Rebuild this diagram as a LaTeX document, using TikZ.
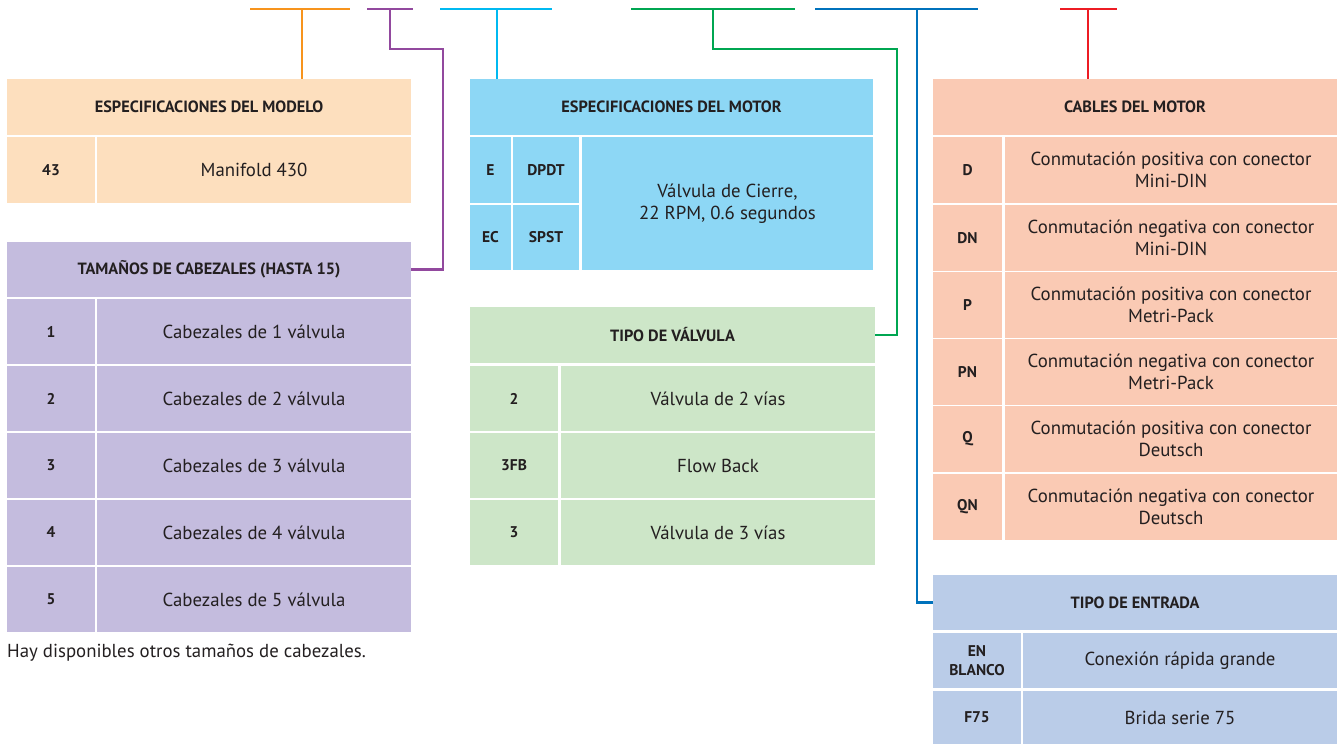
\documentclass[tikz,border=0pt]{standalone}
\usepackage{fontspec}
\setmainfont{PT Sans}
\usetikzlibrary{positioning}
\definecolor{txt}{HTML}{231F20}
\definecolor{cModelo}{HTML}{FDDFBE}
\definecolor{cCabezal}{HTML}{C4BCDE}
\definecolor{cMotor}{HTML}{8DD7F5}
\definecolor{cValvula}{HTML}{CDE6C8}
\definecolor{cCables}{HTML}{FACAB4}
\definecolor{cEntrada}{HTML}{BACCE8}
\definecolor{lnOrange}{HTML}{F7941D}
\definecolor{lnPurple}{HTML}{92499E}
\definecolor{lnCyan}{HTML}{00B9F1}
\definecolor{lnGreen}{HTML}{00A651}
\definecolor{lnBlue}{HTML}{0072BC}
\definecolor{lnRed}{HTML}{ED1C24}

\begin{document}
\begin{tikzpicture}[x=1pt,y=-1pt,
  cell/.style={fill=#1,anchor=north west,inner sep=0pt,outer sep=0pt,align=center,
    text=txt,font=\fontsize{18.8}{22.5}\selectfont},
  head/.style={cell=#1,font=\fontsize{16.3}{19}\selectfont\bfseries},
  code/.style={cell=#1,font=\fontsize{15.5}{19.5}\selectfont\bfseries},
  link/.style={line width=2.8pt,line join=miter}]
  \useasboundingbox (0,0) rectangle (1337,744);

  % Modelo
  \node[head=cModelo,minimum width=404pt,minimum height=56pt] (hdModelo) at (7,79)
    {ESPECIFICACIONES DEL MODELO};
  \node[code=cModelo,minimum width=88pt,minimum height=66pt] (mod1) at (7,137) {43};
  \node[cell=cModelo,minimum width=314pt,minimum height=66pt] (modd1) at (97,137) {Manifold 430};

  % Cabezales
  \node[head=cCabezal,minimum width=404pt,minimum height=55pt] (hdCabezal) at (7,242)
    {TAMAÑOS DE CABEZALES (HASTA 15)};
  \foreach \i [evaluate=\i as \y using 299+67*(\i-1)] in {1,...,5} {
    \node[code=cCabezal,minimum width=88pt,minimum height=65pt] (cab\i) at (7,\y) {\i};
    \node[cell=cCabezal,minimum width=314pt,minimum height=65pt] (cabd\i) at (97,\y)
      {Cabezales de \i\ válvula};
  }
  \node[anchor=west,inner sep=0pt,text=txt,font=\fontsize{18.8}{22.5}\selectfont] (nota) at (7,653)
    {Hay disponibles otros tamaños de cabezales.};

  % Motor
  \node[head=cMotor,minimum width=403pt,minimum height=56pt] (hdMotor) at (470,79)
    {ESPECIFICACIONES DEL MOTOR};
  \node[code=cMotor,minimum width=41pt,minimum height=66pt] (motE) at (470,137) {E};
  \node[code=cMotor,minimum width=66pt,minimum height=66pt] (motDPDT) at (513,137) {DPDT};
  \node[code=cMotor,minimum width=41pt,minimum height=65pt] (motEC) at (470,205) {EC};
  \node[code=cMotor,minimum width=66pt,minimum height=65pt] (motSPST) at (513,205) {SPST};
  \node[cell=cMotor,minimum width=291pt,minimum height=133pt] (motd) at (582,137)
    {Válvula de Cierre,\\22 RPM, 0.6 segundos};

  % Tipo de valvula
  \node[head=cValvula,minimum width=405pt,minimum height=56pt] (hdValvula) at (470,307)
    {TIPO DE VÁLVULA};
  \foreach \y/\c/\t [count=\i] in {366/2/Válvula de 2 vías, 433/3FB/Flow Back, 500/3/Válvula de 3 vías} {
    \node[code=cValvula,minimum width=88pt,minimum height=65pt] (val\i) at (470,\y) {\c};
    \node[cell=cValvula,minimum width=314pt,minimum height=65pt] (vald\i) at (561,\y) {\t};
  }

  % Cables
  \node[head=cCables,minimum width=404pt,minimum height=56pt] (hdCables) at (933,79)
    {CABLES DEL MOTOR};
  \foreach \y/\c/\t [count=\i] in {
      137/D/{Conmutación positiva con conector\\Mini-DIN},
      205/DN/{Conmutación negativa con conector\\Mini-DIN},
      272/P/{Conmutación positiva con conector\\Metri-Pack},
      339/PN/{Conmutación negativa con conector\\Metri-Pack},
      406/Q/{Conmutación positiva con conector\\Deutsch},
      474/QN/{Conmutación negativa con conector\\Deutsch}} {
    \node[code=cCables,minimum width=69pt,minimum height=66pt] (cab\c) at (933,\y) {\c};
    \node[cell=cCables,minimum width=332pt,minimum height=66pt] (cabd\c) at (1005,\y) {\t};
  }

  % Entrada
  \node[head=cEntrada,minimum width=404pt,minimum height=55pt] (hdEntrada) at (933,575)
    {TIPO DE ENTRADA};
  \node[code=cEntrada,minimum width=88pt,minimum height=55pt] (ent1) at (933,633) {EN\\BLANCO};
  \node[cell=cEntrada,minimum width=314pt,minimum height=55pt] (entd1) at (1023,633)
    {Conexión rápida grande};
  \node[code=cEntrada,minimum width=88pt,minimum height=53pt] (ent2) at (933,691) {F75};
  \node[cell=cEntrada,minimum width=314pt,minimum height=53pt] (entd2) at (1023,691)
    {Brida serie 75};

  % Connectors
  \coordinate (tOrange) at (302,9);
  \coordinate (tPurple) at (390,9);
  \coordinate (tCyan) at (497,9);
  \coordinate (tGreen) at (713,9);
  \coordinate (tBlue) at (917,9);
  \coordinate (tRed) at (1088,9);

  \draw[link,lnOrange] (250,9) -- (350,9);
  \draw[link,lnOrange] (tOrange) -- (tOrange |- hdModelo.north);
  \draw[link,lnPurple] (367,9) -- (413,9);
  \draw[link,lnPurple] (tPurple) -- ++(0,40) -| ([xshift=32pt]hdCabezal.east) -- (hdCabezal.east);
  \draw[link,lnCyan] (440,9) -- (552,9);
  \draw[link,lnCyan] (tCyan) -- (tCyan |- hdMotor.north);
  \draw[link,lnGreen] (631,9) -- (795,9);
  \draw[link,lnGreen] (tGreen) -- ++(0,40) -| ([xshift=22pt]hdValvula.east) -- (hdValvula.east);
  \draw[link,lnBlue] (815,9) -- (978,9);
  \draw[link,lnBlue] (tBlue) |- (hdEntrada.west);
  \draw[link,lnRed] (1060,9) -- (1117,9);
  \draw[link,lnRed] (tRed) -- (tRed |- hdCables.north);
\end{tikzpicture}
\end{document}
